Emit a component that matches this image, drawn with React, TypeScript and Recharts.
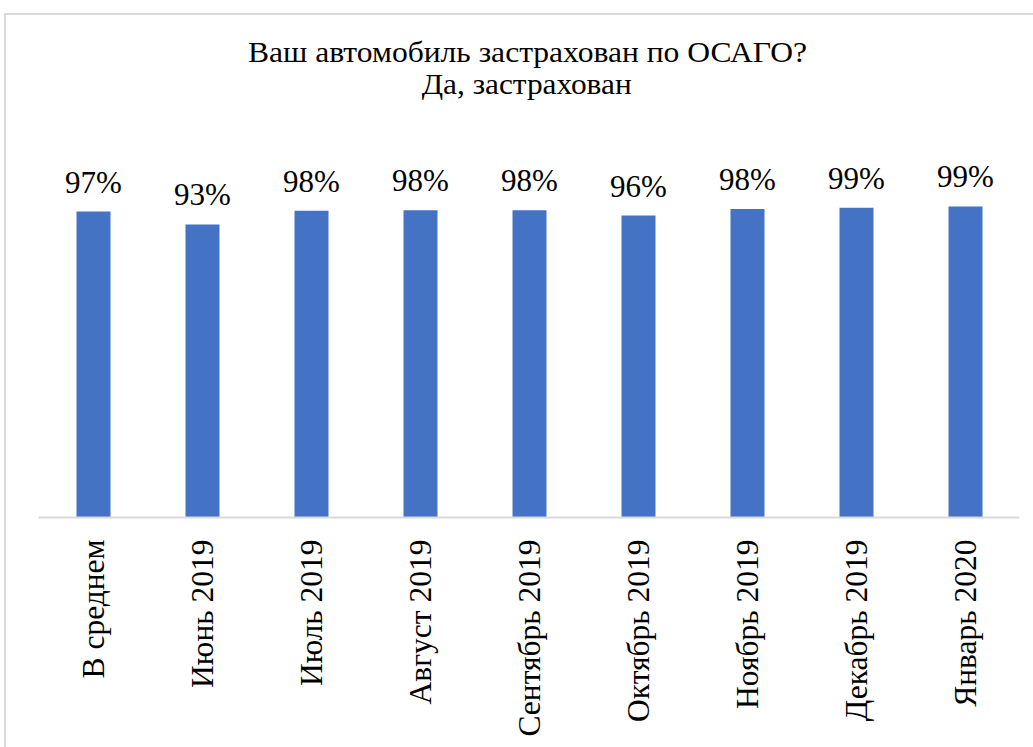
import { BarChart, Bar, XAxis, YAxis, LabelList } from 'recharts';

const categories = [
  'В среднем',
  'Июнь 2019',
  'Июль 2019',
  'Август 2019',
  'Сентябрь 2019',
  'Октябрь 2019',
  'Ноябрь 2019',
  'Декабрь 2019',
  'Январь 2020',
];
const insured = [97.4, 93.3, 97.6, 97.8, 97.8, 96.1, 98.2, 98.6, 99.0];
const titleLines = ['Ваш автомобиль застрахован по ОСАГО?', 'Да, застрахован'];

const data = categories.map((name, i) => ({ name, value: insured[i] }));

const FONT = '"Liberation Serif"';

const RotatedTick = (props: any) => {
  const { x, y, payload } = props;
  return (
    <g transform={`translate(${x},${y + 14})`}>
      <text
        transform="rotate(-90)"
        textAnchor="end"
        dy="0.35em"
        style={{ fontFamily: FONT }}
        fontSize={31.5}
        fill="#000"
      >
        {payload.value}
      </text>
    </g>
  );
};

const ValueLabel = (props: any) => {
  const { x, y, width, value } = props;
  return (
    <text
      x={x + width / 2}
      y={y - 19}
      textAnchor="middle"
      style={{ fontFamily: FONT }}
      fontSize={31}
      fill="#000"
    >
      {`${Math.round(Number(value))}%`}
    </text>
  );
};

const App = () => {
  return (
    <div style={{ position: 'absolute', left: 0, top: 0, width: 1033, height: 747, overflow: 'hidden', background: '#fff' }}>
      {/* chart frame, only the left and top edges are visible */}
      <div style={{ position: 'absolute', left: 4, top: 13, width: 1100, height: 800, border: '2px solid #d9d9d9' }} />
      <svg width={1033} height={120} style={{ position: 'absolute', left: 0, top: 0 }}>
        <text
          x={527.5}
          y={61.7}
          textAnchor="middle"
          textLength={559}
          lengthAdjust="spacingAndGlyphs"
          style={{ fontFamily: FONT }}
          fontSize={28.5}
          fill="#000"
        >
          {titleLines[0]}
        </text>
        <text
          x={526.7}
          y={93.5}
          textAnchor="middle"
          textLength={210}
          lengthAdjust="spacingAndGlyphs"
          style={{ fontFamily: FONT }}
          fontSize={28.5}
          fill="#000"
        >
          {titleLines[1]}
        </text>
      </svg>
      <div style={{ position: 'absolute', left: 0, top: 0 }}>
        <BarChart
          width={1033}
          height={747}
          data={data}
          margin={{ top: 140.5, right: 13.5, left: 38.5, bottom: 0 }}
        >
          <XAxis
            dataKey="name"
            interval={0}
            height={229.5}
            tickLine={false}
            axisLine={{ stroke: '#d9d9d9', strokeWidth: 2 }}
            tick={<RotatedTick />}
          />
          <YAxis hide domain={[0, 120]} width={0} />
          <Bar dataKey="value" fill="#4472C4" barSize={34} isAnimationActive={false}>
            <LabelList dataKey="value" content={<ValueLabel />} />
          </Bar>
        </BarChart>
      </div>
    </div>
  );
};

export default App;
